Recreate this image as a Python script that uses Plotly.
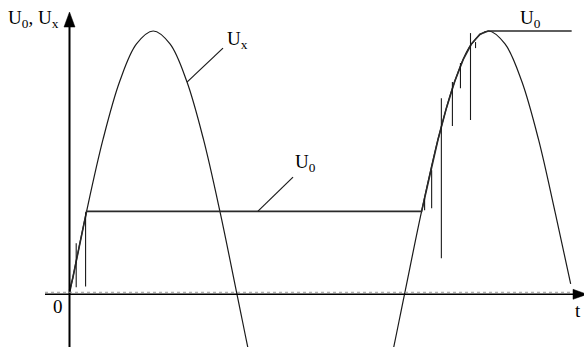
import plotly.graph_objects as go

# ---- data (t in arbitrary time units, U normalised to peak = 1) ----
ux_t = [0, 0.5, 1, 1.5, 2, 2.5, 3, 3.5, 4, 4.5, 5, 5.5, 6, None,
        9, 9.5, 10, 10.5, 11, 11.5, 12, 12.5, 13, 13.5, 14, 14.5, 14.96]
ux_u = [0, 0.309, 0.588, 0.809, 0.951, 1.0, 0.951, 0.809, 0.588, 0.309, 0.0, -0.309, -0.588, None,
        -0.588, -0.309, 0.0, 0.309, 0.588, 0.809, 0.951, 1.0, 0.951, 0.809, 0.588, 0.309, 0.04]

u0_t = [0, 0.1, 0.2, 0.3, 0.4, 0.51, 10.51, 10.75, 11, 11.25, 11.5, 11.75, 12, 12.25, 12.5, 14.99]
u0_u = [0.015, 0.063, 0.125, 0.187, 0.249, 0.315, 0.315, 0.454, 0.588, 0.707, 0.809, 0.891, 0.951, 0.988, 1.0, 1.0]

spike_t = [0.20, 0.48, 10.60, 10.81, 11.10, 11.43, 11.67, 11.97, 12.12]
spike_top = [0.194, 0.312, 0.365, 0.471, 0.745, 0.806, 0.878, 0.992, 0.958]
spike_bot = [0.027, 0.030, 0.319, 0.327, 0.137, 0.639, 0.783, 0.662, 0.935]

# axis extents
X0, X1 = -2.0746, 15.358
Y0, Y1 = -0.2002, 1.1177

sx, sy = [], []
for t, a, b in zip(spike_t, spike_top, spike_bot):
    sx += [t, t, None]
    sy += [a, b, None]

fig = go.Figure()
fig.add_trace(go.Scatter(x=ux_t, y=ux_u, mode="lines", line=dict(color="#1a1a1a", width=1.2, shape="spline"),
                         connectgaps=False, hoverinfo="skip", showlegend=False))
fig.add_trace(go.Scatter(x=u0_t, y=u0_u, mode="lines", line=dict(color="#2a2a2a", width=1.6),
                         hoverinfo="skip", showlegend=False))
fig.add_trace(go.Scatter(x=sx, y=sy, mode="lines", line=dict(color="#1a1a1a", width=1.1),
                         hoverinfo="skip", showlegend=False))

dx = 1 / 33.5   # one pixel in t
dy = 1 / 263.3  # one pixel in U

shapes = [
    # y axis
    dict(type="line", x0=0, x1=0, y0=Y0 - 0.05, y1=1.015, line=dict(color="black", width=2)),
    dict(type="path", path=f"M {0} {1.072} L {-5.5*dx} {1.015} L {5.5*dx} {1.015} Z",
         fillcolor="black", line=dict(color="black", width=0.5)),
    # x axis
    dict(type="line", x0=-24.5 * dx, x1=15.05, y0=0, y1=0, line=dict(color="black", width=1.6)),
    dict(type="line", x0=-24.5 * dx, x1=15.05, y0=2 * dy, y1=2 * dy,
         line=dict(color="#9a9a9a", width=1, dash="dot")),
    dict(type="path", path=f"M {15.45} 0 L {15.03} {5*dy} L {15.03} {-5*dy} Z",
         fillcolor="black", line=dict(color="black", width=0.5)),
    # leader lines
    dict(type="line", x0=3.507, y0=0.806, x1=4.582, y1=0.935, line=dict(color="#1a1a1a", width=1.2)),
    dict(type="line", x0=5.627, y0=0.316, x1=6.672, y1=0.445, line=dict(color="#1a1a1a", width=1.2)),
]

font = dict(family="Liberation Serif, Times New Roman, serif", size=19, color="black")
ann = [
    dict(x=-1.896, y=1.046, text="U<sub>0</sub>, U<sub>x</sub>", xanchor="left", yanchor="middle"),
    dict(x=4.64, y=0.966, text="U<sub>x</sub>", xanchor="left", yanchor="middle"),
    dict(x=6.672, y=0.499, text="U<sub>0</sub>", xanchor="left", yanchor="middle"),
    dict(x=13.388, y=1.046, text="U<sub>0</sub>", xanchor="left", yanchor="middle"),
    dict(x=-0.343, y=-0.048, text="0", xanchor="center", yanchor="middle"),
    dict(x=15.18, y=-0.06, text="t", xanchor="center", yanchor="middle"),
]
for a in ann:
    a.update(xref="x", yref="y", showarrow=False, font=font)

fig.update_layout(
    width=584, height=347, autosize=False,
    margin=dict(l=0, r=0, t=0, b=0, pad=0),
    paper_bgcolor="white", plot_bgcolor="white",
    xaxis=dict(range=[X0, X1], visible=False, fixedrange=True),
    yaxis=dict(range=[Y0, Y1], visible=False, fixedrange=True),
    shapes=shapes, annotations=ann, showlegend=False,
)

fig.write_html("out.html", config={"displayModeBar": False},
               post_script="document.body.style.margin='0';")
